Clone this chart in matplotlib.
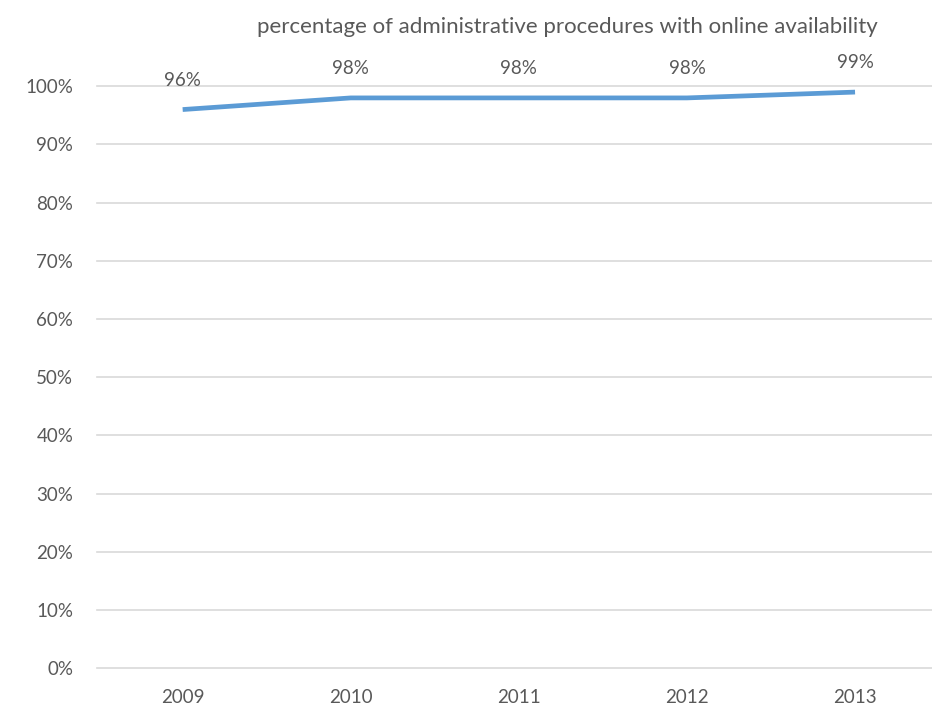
import matplotlib
matplotlib.use("Agg")
import matplotlib.pyplot as plt
from matplotlib.ticker import PercentFormatter

years = ["2009", "2010", "2011", "2012", "2013"]
values = [0.96, 0.98, 0.98, 0.98, 0.99]
labels = ["96%", "98%", "98%", "98%", "99%"]
title = "percentage of administrative procedures with online availability"

plt.rcParams["font.family"] = ["Lato", "DejaVu Sans"]
text_color = "#595959"
fs = 13.5

fig = plt.figure(figsize=(9.32, 7.13), dpi=100)
ax = fig.add_axes([0.104, 0.063, 0.90, 0.816])

x = list(range(len(years)))
ax.plot(x, values, color="#5B9BD5", linewidth=3.4, solid_capstyle="butt")
for xi, v, lab in zip(x, values, labels):
    ax.annotate(lab, (xi, v), xytext=(0, 15), textcoords="offset points",
                ha="center", va="bottom", fontsize=fs, color=text_color)

ax.set_ylim(0, 1.0)
ax.set_xlim(-0.51, 4.48)
ax.set_yticks([i / 10 for i in range(11)])
ax.yaxis.set_major_formatter(PercentFormatter(1.0, decimals=0))
ax.set_xticks(x)
ax.set_xticklabels(years)
ax.grid(axis="y", color="#d9d9d9", linewidth=1.2)
for gl in ax.get_ygridlines():
    gl.set_clip_on(False)
ax.set_axisbelow(True)
for s in ax.spines.values():
    s.set_visible(False)
ax.tick_params(axis="both", length=0, labelsize=fs, labelcolor=text_color)
ax.tick_params(axis="x", pad=15)
ax.tick_params(axis="y", pad=17)

fig.text(0.609, 0.962, title, ha="center", va="center", fontsize=16, color=text_color)

fig.savefig("out.png", dpi=100, facecolor="white")
